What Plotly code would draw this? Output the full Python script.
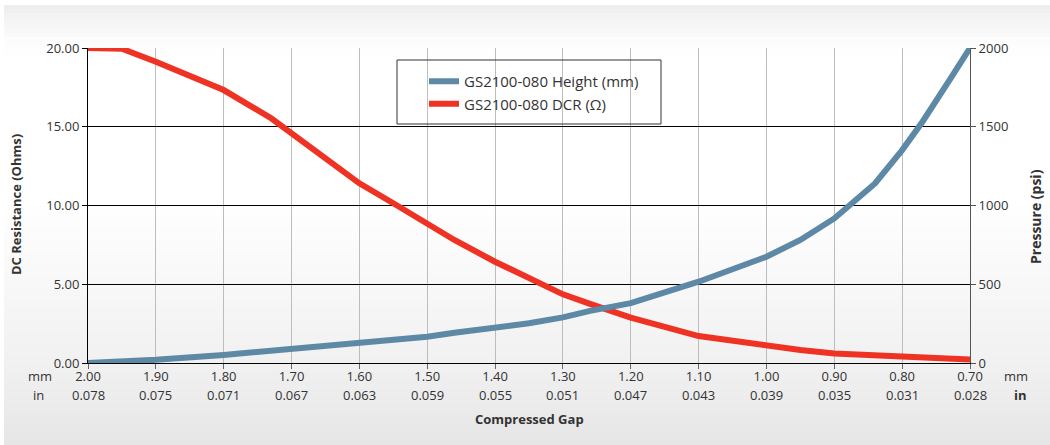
import plotly.graph_objects as go

# ---- data ----
gap_mm = [2.00, 1.95, 1.90, 1.80, 1.73, 1.70, 1.65, 1.60, 1.55, 1.50, 1.46, 1.40, 1.35,
          1.30, 1.26, 1.20, 1.10, 1.00, 0.95, 0.90, 0.84, 0.80, 0.77, 0.73, 0.70]
dcr_ohm = [20.0, 19.95, 19.13, 17.33, 15.54, 14.58, 13.0, 11.41, 10.14, 8.87, 7.81, 6.43, 5.37,
           4.36, 3.75, 2.88, 1.71, 1.08, 0.82, 0.61, 0.48, 0.40, 0.34, 0.28, 0.23]
pressure_psi = [0, 8, 20, 51, 76, 87, 106, 125, 146, 167, 192, 224, 252,
                290, 331, 380, 516, 675, 781, 918, 1140, 1352, 1532, 1797, 2000]

mm_ticks = [2.00, 1.90, 1.80, 1.70, 1.60, 1.50, 1.40, 1.30, 1.20, 1.10, 1.00, 0.90, 0.80, 0.70]
mm_labels = ["2.00", "1.90", "1.80", "1.70", "1.60", "1.50", "1.40", "1.30", "1.20",
             "1.10", "1.00", "0.90", "0.80", "0.70"]
in_labels = ["0.078", "0.075", "0.071", "0.067", "0.063", "0.059", "0.055", "0.051",
             "0.047", "0.043", "0.039", "0.035", "0.031", "0.028"]
left_ticks = [0, 5, 10, 15, 20]
left_labels = ["0.00", "5.00", "10.00", "15.00", "20.00"]
right_ticks = [0, 500, 1000, 1500, 2000]

FONT = "Open Sans"
TXT = "#333333"
W, H = 1050, 445
L, R, T, B = 88, 80, 48, 82
PW, PH = W - L - R, H - T - B

def px_x(p):
    return (p - L) / PW

def px_y(p):
    return (H - B - p) / PH

fig = go.Figure()

fig.add_trace(go.Scatter(
    x=gap_mm, y=pressure_psi, yaxis="y2", mode="lines",
    name="GS2100-080 Height (mm)",
    line=dict(color="#5d88a6", width=6),
))
fig.add_trace(go.Scatter(
    x=gap_mm, y=dcr_ohm, yaxis="y", mode="lines",
    name="GS2100-080 DCR (Ω)",
    line=dict(color="#ee3224", width=6),
))

# background gradient bands (decoration)
stops = [(0, (255, 255, 255)), (5, (255, 255, 255)), (6, (238, 238, 238)), (22, (245, 245, 245)),
         (40, (252, 252, 252)), (60, (255, 255, 255)), (200, (255, 255, 255)),
         (270, (249, 249, 249)), (363, (241, 241, 241)), (445, (230, 230, 230))]
shapes = []
def col_at(yp):
    for (y0, c0), (y1, c1) in zip(stops[:-1], stops[1:]):
        if y0 <= yp <= y1:
            t = 0 if y1 == y0 else (yp - y0) / (y1 - y0)
            return tuple(round(a + (b - a) * t) for a, b in zip(c0, c1))
    return stops[-1][1]
yp = 5
while yp < H:
    y_next = min(yp + 4, H)
    c = col_at((yp + y_next) / 2)
    shapes.append(dict(type="rect", xref="paper", yref="paper", layer="below",
                       x0=px_x(4), x1=px_x(W), y0=px_y(y_next), y1=px_y(yp),
                       fillcolor="rgb(%d,%d,%d)" % c, line=dict(width=0)))
    yp = y_next

# legend box
shapes.append(dict(type="rect", xref="paper", yref="paper", layer="below",
                   x0=px_x(397), x1=px_x(661), y0=px_y(124), y1=px_y(60),
                   fillcolor="white", line=dict(width=0)))
shapes.append(dict(type="rect", xref="paper", yref="paper", layer="above",
                   x0=px_x(397), x1=px_x(661), y0=px_y(124), y1=px_y(60),
                   fillcolor="rgba(255,255,255,0)", line=dict(color="#333333", width=1)))

annotations = []
for xv, lab in zip(mm_ticks, in_labels):
    annotations.append(dict(x=xv, xref="x", y=px_y(395), yref="paper", text=lab,
                            showarrow=False, xanchor="center", yanchor="middle", borderpad=0,
                            font=dict(family=FONT, size=13, color=TXT)))
annotations += [
    dict(x=px_x(40), y=px_y(376), xref="paper", yref="paper", text="mm", showarrow=False,
         xanchor="center", yanchor="middle", borderpad=0, font=dict(family=FONT, size=13, color=TXT)),
    dict(x=px_x(38), y=px_y(395), xref="paper", yref="paper", text="in", showarrow=False,
         xanchor="center", yanchor="middle", borderpad=0, font=dict(family=FONT, size=13, color=TXT)),
    dict(x=px_x(1016), y=px_y(376), xref="paper", yref="paper", text="mm", showarrow=False,
         xanchor="center", yanchor="middle", borderpad=0, font=dict(family=FONT, size=13, color=TXT)),
    dict(x=px_x(1020), y=px_y(395), xref="paper", yref="paper", text="<b>in</b>", showarrow=False,
         xanchor="center", yanchor="middle", borderpad=0, font=dict(family=FONT, size=13, color=TXT)),
    dict(x=0.5, y=px_y(419), xref="paper", yref="paper", text="<b>Compressed Gap</b>",
         showarrow=False, xanchor="center", yanchor="middle",
         font=dict(family=FONT, size=13, color=TXT)),
    dict(x=px_x(16), y=px_y(205), xref="paper", yref="paper", text="<b>DC Resistance (Ohms)</b>",
         showarrow=False, textangle=-90, xanchor="center", yanchor="middle",
         font=dict(family=FONT, size=13, color=TXT)),
    dict(x=px_x(1035), y=px_y(217), xref="paper", yref="paper", text="<b>Pressure (psi)</b>",
         showarrow=False, textangle=-90, xanchor="center", yanchor="middle",
         font=dict(family=FONT, size=14, color=TXT)),
]

fig.update_layout(
    width=W, height=H,
    margin=dict(l=L, r=R, t=T, b=B, pad=0),
    paper_bgcolor="white",
    plot_bgcolor="rgba(0,0,0,0)",
    font=dict(family=FONT, size=13, color=TXT),
    shapes=shapes,
    annotations=annotations,
    showlegend=True,
    legend=dict(x=px_x(424), y=px_y(65), xanchor="left", yanchor="top",
                bgcolor="rgba(0,0,0,0)", borderwidth=0,
                font=dict(family=FONT, size=15, color=TXT),
                tracegroupgap=0, itemwidth=30),
    xaxis=dict(range=[2.0, 0.7], tickvals=mm_ticks, ticktext=mm_labels,
               showgrid=True, gridcolor="#bdbdbd", gridwidth=1.4,
               showline=True, linecolor="black", linewidth=1,
               ticks="outside", ticklen=5, tickcolor="#666666", ticklabelstandoff=-4,
               zeroline=False, tickfont=dict(family=FONT, size=13, color=TXT)),
    yaxis=dict(range=[0, 20], tickvals=left_ticks, ticktext=left_labels,
               showgrid=True, gridcolor="black", gridwidth=1,
               showline=True, linecolor="black", linewidth=1,
               ticks="outside", ticklen=5, tickcolor="black",
               zeroline=False, tickfont=dict(family=FONT, size=13, color=TXT)),
    yaxis2=dict(range=[0, 2000], tickvals=right_ticks, overlaying="y", side="right",
                showgrid=False, showline=True, linecolor="#555555", linewidth=1,
                ticks="outside", ticklen=5, tickcolor="#555555",
                zeroline=False, tickfont=dict(family=FONT, size=13, color=TXT)),
)

fig.write_html("out.html", config={"displayModeBar": False},
               post_script="document.body.style.margin='0px';document.body.style.padding='0px';")
